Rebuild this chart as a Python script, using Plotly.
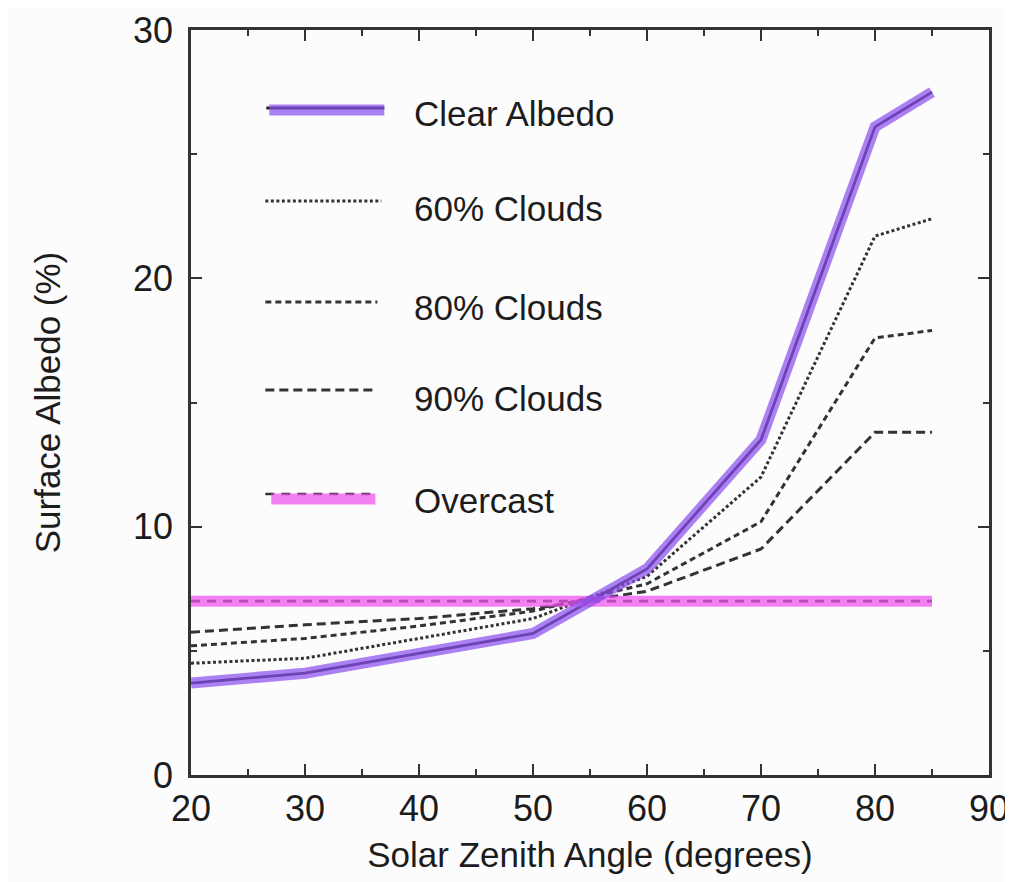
import plotly.graph_objects as go

# ---------------- data ----------------
angles = [20, 30, 40, 50, 60, 70, 80, 85]
clear_albedo = [3.7, 4.1, 4.9, 5.7, 8.3, 13.5, 26.1, 27.5]
clouds_60 = [4.5, 4.7, 5.5, 6.3, 8.0, 12.0, 21.7, 22.4]
clouds_80 = [5.2, 5.5, 6.0, 6.6, 7.7, 10.2, 17.6, 17.9]
clouds_90 = [5.75, 6.05, 6.3, 6.7, 7.4, 9.1, 13.8, 13.8]
overcast = [7.0, 7.0, 7.0, 7.0, 7.0, 7.0, 7.0, 7.0]

series_names = ["Clear Albedo", "60% Clouds", "80% Clouds", "90% Clouds", "Overcast"]
x_title = "Solar Zenith Angle (degrees)"
y_title = "Surface Albedo (%)"

# ---------------- styles ----------------
INK = "#333333"
PURPLE = "rgba(140,80,240,0.72)"
MAGENTA = "rgba(240,80,240,0.72)"
FONT = "Liberation Sans, Arial, Helvetica, sans-serif"
DASH_60 = "3px,2.5px"
DASH_80 = "6px,4px"
DASH_90 = "9px,5px"
DASH_OC = "9px,7px"
LW = 3.0

fig = go.Figure()

fig.add_trace(go.Scatter(x=angles, y=clouds_60, mode="lines", name=series_names[1],
                         line=dict(color=INK, width=LW, dash=DASH_60), showlegend=False))
fig.add_trace(go.Scatter(x=angles, y=clouds_80, mode="lines", name=series_names[2],
                         line=dict(color=INK, width=LW, dash=DASH_80), showlegend=False))
fig.add_trace(go.Scatter(x=angles, y=clouds_90, mode="lines", name=series_names[3],
                         line=dict(color=INK, width=LW, dash=DASH_90), showlegend=False))
fig.add_trace(go.Scatter(x=angles, y=overcast, mode="lines", name=series_names[4],
                         line=dict(color=INK, width=2.6, dash=DASH_OC), showlegend=False))
fig.add_trace(go.Scatter(x=angles, y=clear_albedo, mode="lines", name=series_names[0],
                         line=dict(color="#1e1e1e", width=2.8), showlegend=False))
# highlighter bands drawn over the ink lines
fig.add_trace(go.Scatter(x=angles, y=overcast, mode="lines", name=series_names[4] + " highlight",
                         line=dict(color=MAGENTA, width=11), showlegend=False, hoverinfo="skip"))
fig.add_trace(go.Scatter(x=angles, y=clear_albedo, mode="lines", name=series_names[0] + " highlight",
                         line=dict(color=PURPLE, width=11), showlegend=False, hoverinfo="skip"))

# ---------------- manual legend (keys as shapes, labels as annotations) ----------------
L, T, W, H = 183, 22, 805, 745


def px(xp):
    return (xp - L) / W


def py(yp):
    return (T + H - yp) / H


shapes = []
annotations = []

legend_rows = [
    # (label, text y px)
    (series_names[0], 106),
    (series_names[1], 200),
    (series_names[2], 300),
    (series_names[3], 390),
    (series_names[4], 493),
]

# Clear Albedo key: ink line + purple highlighter
shapes.append(dict(type="line", xref="paper", yref="paper", x0=px(259), x1=px(378),
                   y0=py(100), y1=py(100), line=dict(color="#1e1e1e", width=2.8)))
shapes.append(dict(type="line", xref="paper", yref="paper", x0=px(262), x1=px(378),
                   y0=py(102), y1=py(102), line=dict(color=PURPLE, width=11)))
# 60% / 80% / 90%
shapes.append(dict(type="line", xref="paper", yref="paper", x0=px(258), x1=px(375),
                   y0=py(193), y1=py(193), line=dict(color=INK, width=LW, dash=DASH_60)))
shapes.append(dict(type="line", xref="paper", yref="paper", x0=px(258), x1=px(371),
                   y0=py(294), y1=py(294), line=dict(color=INK, width=LW, dash=DASH_80)))
shapes.append(dict(type="line", xref="paper", yref="paper", x0=px(258), x1=px(371),
                   y0=py(382), y1=py(382), line=dict(color=INK, width=LW, dash=DASH_90)))
# Overcast key: dashed ink + magenta highlighter
shapes.append(dict(type="line", xref="paper", yref="paper", x0=px(258), x1=px(370),
                   y0=py(486), y1=py(486), line=dict(color=INK, width=2.6, dash=DASH_OC)))
shapes.append(dict(type="line", xref="paper", yref="paper", x0=px(264), x1=px(369),
                   y0=py(491), y1=py(491), line=dict(color=MAGENTA, width=11)))

for label, ty in legend_rows:
    annotations.append(dict(text=label, xref="paper", yref="paper", x=px(406), y=py(ty),
                            xanchor="left", yanchor="middle", showarrow=False,
                            font=dict(family=FONT, size=35, color="#1c1c1c")))

axis_common = dict(
    showline=True, linewidth=2.6, linecolor=INK, mirror="ticks",
    ticks="inside", ticklen=11, tickwidth=2.2, tickcolor=INK,
    showgrid=False, zeroline=False, ticklabeloverflow="allow",
    tickfont=dict(family=FONT, size=36, color="#1c1c1c"),
)

fig.update_layout(
    width=1013, height=882,
    margin=dict(l=L, r=1013 - L - W, t=T, b=882 - T - H),
    paper_bgcolor="#fcfcfc", plot_bgcolor="#fcfcfc",
    font=dict(family=FONT, color="#1c1c1c"),
    shapes=shapes, annotations=annotations,
    showlegend=False,
    xaxis=dict(range=[20, 90], tickmode="linear", tick0=20, dtick=10,
               minor=dict(dtick=5, tick0=20, ticks="inside", ticklen=6, tickwidth=2, tickcolor=INK),
               title=dict(text=x_title, font=dict(family=FONT, size=35, color="#1c1c1c")),
               **axis_common),
    yaxis=dict(range=[0, 30], tickmode="linear", tick0=0, dtick=10,
               minor=dict(dtick=5, tick0=0, ticks="inside", ticklen=6, tickwidth=2, tickcolor=INK),
               ticklabelstandoff=8, automargin="left",
               title=dict(text=y_title, standoff=62, font=dict(family=FONT, size=35, color="#1c1c1c")),
               **axis_common),
)

fig.write_html("out.html")
